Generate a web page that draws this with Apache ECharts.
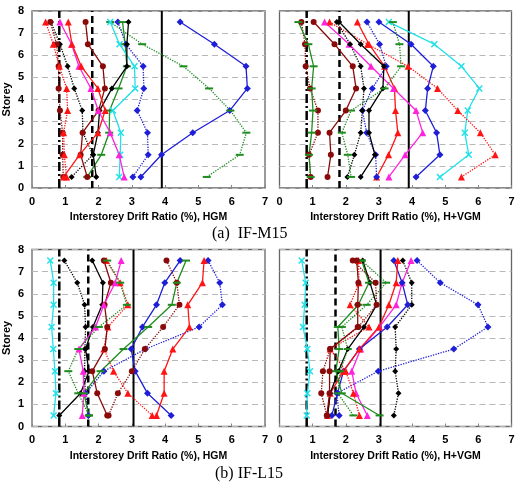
<!DOCTYPE html>
<html><head><meta charset="utf-8">
<script src="https://cdn.jsdelivr.net/npm/echarts@6/dist/echarts.min.js"></script>
<style>html,body{margin:0;padding:0;background:#fff}#c{width:524px;height:491px}</style>
</head><body><div id="c"></div>
<script>
// storey positions (top to bottom)
const storeys = [7.5,6.5,5.5,4.5,3.5,2.5,1.5,0.5];
const xTickValues = [0,1,2,3,4,5,6,7];
const yTickValues = [0,1,2,3,4,5,6,7,8];
const thresholdsM15 = [0.82,1.81,3.9];
const thresholdsL15 = [0.82,1.69,3.05];
const panelTitles = ['(a)  IF-M15','(b) IF-L15'];
const xNames = ['Interstorey Drift Ratio (%), HGM','Interstorey Drift Ratio (%), H+VGM'];

// Panel A: IF-M15, HGM
const a_blueSolid   = [4.45,5.48,6.43,6.47,5.94,4.83,3.89,3.27];
const a_blueDot     = [2.58,2.82,3.34,3.36,3.16,3.47,3.49,3.03];
const a_greenSolid  = [2.72,2.80,2.85,2.60,2.33,2.32,2.08,1.66];
const a_greenDot    = [2.35,3.31,4.55,5.32,5.96,6.44,6.24,5.25];
const a_cyanSolid   = [2.35,2.63,3.08,3.10,2.43,2.67,2.65,2.62];
const a_blackSolid  = [2.90,2.85,2.85,2.40,2.03,1.98,1.84,1.93];
const a_blackDot    = [0.57,0.84,1.07,1.27,1.51,1.53,1.83,1.19];
const a_maroonSolid = [1.61,1.68,2.13,2.19,2.00,1.52,1.46,1.66];
const a_maroonDot   = [0.55,0.74,0.80,0.80,0.84,0.92,0.92,0.94];
const a_magentaSolid= [0.84,1.19,1.41,1.77,1.99,2.35,2.62,2.77];
const a_redSolid    = [1.09,1.20,1.48,1.98,2.20,1.98,1.43,0.95];
const a_redDot      = [0.41,0.64,0.82,1.04,1.07,0.95,0.97,1.04];

// Panel B: IF-M15, H+VGM
const b_cyanSolid   = [3.30,4.67,5.49,6.03,5.68,5.59,5.71,4.84];
const b_blueSolid   = [3.00,3.97,4.64,4.47,4.40,4.74,4.84,4.12];
const b_redDot      = [1.51,2.66,3.88,4.77,5.38,6.06,6.51,5.49];
const b_redSolid    = [2.35,2.70,3.17,3.47,3.50,3.57,3.29,2.93];
const b_magentaSolid= [1.36,2.10,2.76,3.44,4.12,4.32,3.79,3.30];
const b_blueDot     = [2.64,3.02,3.22,2.80,2.50,2.63,2.90,2.93];
const b_blackSolid  = [1.80,2.45,3.15,3.12,2.70,2.70,2.88,2.45];
const b_blackDot    = [1.73,2.13,2.45,2.55,2.50,2.45,2.26,2.05];
const b_greenDot    = [3.42,3.62,3.67,3.17,2.16,1.88,2.06,2.16];
const b_maroonSolid = [1.03,1.66,2.21,2.31,2.00,1.51,1.55,1.45];
const b_maroonDot   = [0.66,0.77,0.79,0.92,1.16,1.16,0.89,0.94];
const b_greenSolid  = [0.57,0.87,1.03,0.97,1.01,0.97,0.89,0.94];

// Panel C: IF-L15, HGM
const c_cyanSolid   = [0.55,0.65,0.65,0.59,0.64,0.69,0.72,0.65];
const c_blackDot    = [0.97,1.36,1.58,1.61,1.59,1.58,1.60,1.70];
const c_blackSolid  = [1.81,2.13,2.11,1.83,1.61,1.71,1.46,0.82];
const c_blueSolid   = [4.45,3.99,3.74,3.32,2.98,3.10,3.47,4.18];
const c_blueDot     = [5.29,5.64,5.72,5.02,3.41,2.16,1.61,1.69];
const c_redSolid    = [5.17,5.12,4.68,4.73,4.23,3.97,3.97,3.74];
const c_redDot      = [2.23,2.65,2.88,2.28,2.16,2.45,2.88,3.61];
const c_maroonDot   = [4.04,4.35,4.43,3.94,3.39,3.00,2.58,2.30];
const c_maroonSolid = [2.16,2.37,2.18,2.26,2.19,1.81,1.96,2.26];
const c_magentaSolid= [2.68,2.50,2.16,1.91,1.41,1.54,1.56,1.51];
const c_greenDot    = [2.26,2.65,2.85,2.01,1.39,1.09,1.39,1.71];
const c_greenSolid  = [4.63,4.35,4.20,3.49,2.75,2.06,1.56,1.71];

// Panel D: IF-L15, H+VGM
const d_cyanSolid   = [0.67,0.79,0.76,0.71,0.84,0.92,0.84,0.82];
const d_blueDot     = [4.15,4.85,5.99,6.29,5.26,2.98,1.73,1.80];
const d_blackDot    = [3.72,3.99,3.99,3.49,3.52,3.49,3.59,3.45];
const d_magentaSolid= [3.97,3.70,3.52,3.02,2.45,2.18,2.31,2.65];
const d_blueSolid   = [3.45,3.70,3.87,3.25,2.41,1.93,1.75,1.58];
const d_redSolid    = [3.57,3.52,3.30,3.00,2.41,1.93,1.53,1.45];
const d_redDot      = [2.38,2.40,2.13,2.70,1.53,2.00,2.23,2.41];
const d_blackSolid  = [2.51,2.73,2.93,2.55,2.06,1.78,1.53,1.45];
const d_greenSolid  = [2.48,2.70,2.38,1.76,1.80,1.70,1.88,3.02];
const d_greenDot    = [2.48,3.22,2.63,1.88,2.06,1.83,1.76,2.23];
const d_maroonSolid = [2.33,2.38,2.36,2.36,1.53,1.51,1.51,1.43];
const d_maroonDot   = [2.21,2.90,2.93,2.38,1.53,1.31,1.26,1.43];

const COL = {blue:'#1e1ed8', red:'#ff1414', magenta:'#ff22dd', cyan:'#22e0e8', maroon:'#8a0a0a', black:'#000000', green:'#1e8c1e'};
const XSYM = 'path://M0,1.5L1.5,0L5,3.5L8.5,0L10,1.5L6.5,5L10,8.5L8.5,10L5,6.5L1.5,10L0,8.5L3.5,5Z';
const SYM = {blue:['diamond',7], red:['triangle',7], magenta:['triangle',7], cyan:[XSYM,7], maroon:['circle',6], black:['diamond',6], green:['rect',[8,2]]};

function mk(g, vals, color, dotted){
  return {type:'line', xAxisIndex:g, yAxisIndex:g, data: vals.map((v,i)=>[v, storeys[i]]),
    symbol: SYM[color][0], symbolSize: SYM[color][1], showSymbol:true, animation:false,
    lineStyle:{color:COL[color], width:1.3, type: dotted?'dotted':'solid'},
    itemStyle:{color:COL[color]}, z:3};
}
function thr(g, ts){
  const types = [[9,3,2,3],[7,4],'solid'];
  return ts.map((t,i)=>({type:'line', xAxisIndex:g, yAxisIndex:g, data:[[t,0],[t,8]], symbol:'none', animation:false,
    lineStyle:{color:'#000', width: i===2?2:2.5, type: types[i]}, z:2}));
}

const panels = [
  [[a_blueSolid,'blue',0],[a_blueDot,'blue',1],[a_greenSolid,'green',0],[a_greenDot,'green',1],[a_cyanSolid,'cyan',0],[a_blackSolid,'black',0],[a_blackDot,'black',1],[a_maroonSolid,'maroon',0],[a_maroonDot,'maroon',1],[a_magentaSolid,'magenta',0],[a_redSolid,'red',0],[a_redDot,'red',1]],
  [[b_cyanSolid,'cyan',0],[b_blueSolid,'blue',0],[b_redDot,'red',1],[b_redSolid,'red',0],[b_magentaSolid,'magenta',0],[b_blueDot,'blue',1],[b_blackSolid,'black',0],[b_blackDot,'black',1],[b_greenDot,'green',1],[b_maroonSolid,'maroon',0],[b_maroonDot,'maroon',1],[b_greenSolid,'green',0]],
  [[c_cyanSolid,'cyan',0],[c_blackDot,'black',1],[c_blackSolid,'black',0],[c_blueSolid,'blue',0],[c_blueDot,'blue',1],[c_redSolid,'red',0],[c_redDot,'red',1],[c_maroonDot,'maroon',1],[c_maroonSolid,'maroon',0],[c_magentaSolid,'magenta',0],[c_greenDot,'green',1],[c_greenSolid,'green',0]],
  [[d_cyanSolid,'cyan',0],[d_blueDot,'blue',1],[d_blackDot,'black',1],[d_magentaSolid,'magenta',0],[d_blueSolid,'blue',0],[d_redSolid,'red',0],[d_redDot,'red',1],[d_blackSolid,'black',0],[d_greenSolid,'green',0],[d_greenDot,'green',1],[d_maroonSolid,'maroon',0],[d_maroonDot,'maroon',1]]
];
const thresholds = [thresholdsM15, thresholdsM15, thresholdsL15, thresholdsL15];

const gridPos = [
  {left:28.5, top:11, width:236.5, height:177},
  {left:279.5, top:11, width:232, height:177},
  {left:28.5, top:249.5, width:236.5, height:177},
  {left:279.5, top:249.5, width:232, height:177}
];
const lblFont = {fontFamily:'Liberation Sans, Arial', fontWeight:'bold', fontSize:11, color:'#000'};

const option = {
  backgroundColor:'#fff',
  animation:false,
  grid: gridPos.map(p=>Object.assign({show:true, borderColor:'#666', borderWidth:1.3, backgroundColor:'transparent'}, p)),
  xAxis: gridPos.map((p,i)=>({type:'value', gridIndex:i, min:0, max:7, interval:1,
    name: xNames[i%2], nameLocation:'middle', nameGap:24,
    nameTextStyle: Object.assign({}, lblFont, {fontSize:10.5}),
    axisLine:{show:false}, axisTick:{show:true, inside:true, length:3, lineStyle:{color:'#888'}},
    axisLabel: Object.assign({margin:8, formatter:v=> xTickValues.includes(v)? String(v):''}, lblFont),
    splitLine:{show:false}})),
  yAxis: gridPos.map((p,i)=>({type:'value', gridIndex:i, min:0, max:8, interval:1,
    name: i%2===0 ? 'Storey' : '', nameLocation:'middle', nameGap:20, nameRotate:90,
    nameTextStyle: Object.assign({}, lblFont),
    axisLine:{show:false}, axisTick:{show:false},
    axisLabel: Object.assign({show: i%2===0, margin:8, formatter:v=> yTickValues.includes(v)? String(v):''}, lblFont),
    splitLine:{show:true, lineStyle:{color:'#b8b8b8', type:[6,4], width:1}}})),
  series: [],
  graphic: [
    {type:'text', left:'center', top:226, style:{text:panelTitles[0], font:'16px "Liberation Serif", "Times New Roman", serif', fill:'#000'}, x:0},
    {type:'text', left:'center', top:466, style:{text:panelTitles[1], font:'16px "Liberation Serif", "Times New Roman", serif', fill:'#000'}}
  ]
};
panels.forEach((ps, g)=>{
  option.series.push(...thr(g, thresholds[g]));
  ps.forEach(([vals,color,dot])=> option.series.push(mk(g, vals, color, !!dot)));
});
option.graphic[0].left = 212; option.graphic[1].left = 215;
const chart = echarts.init(document.getElementById('c'), null, {renderer:'canvas'});
chart.setOption(option);
</script></body></html>
